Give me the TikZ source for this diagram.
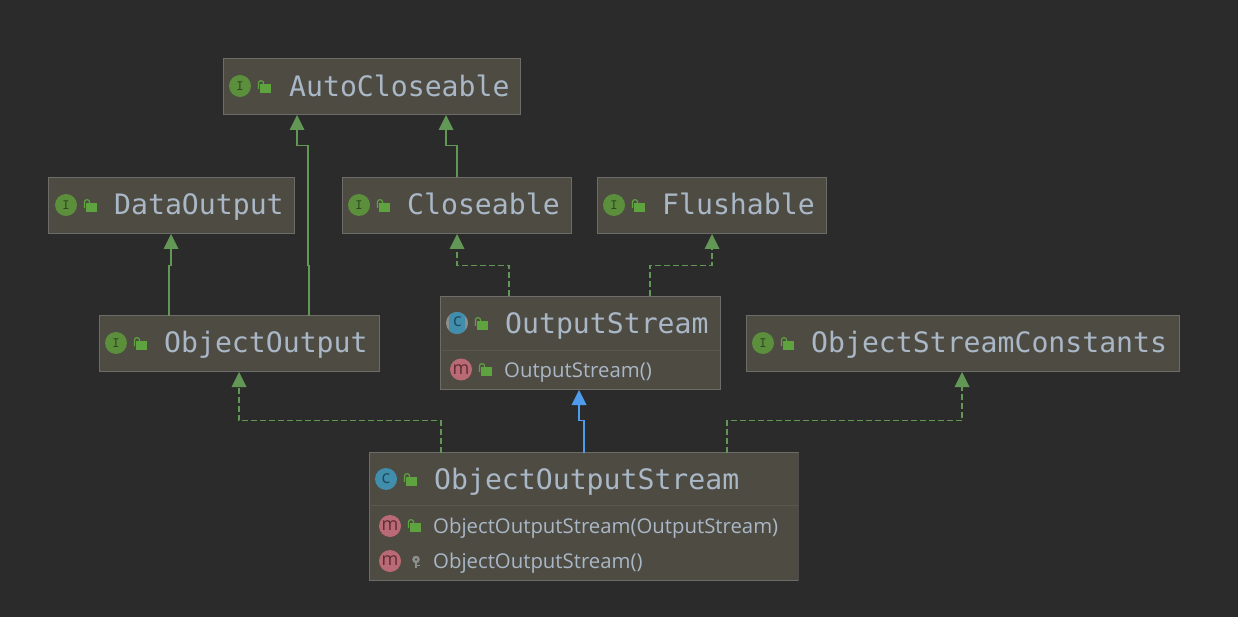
\documentclass[tikz,border=0pt]{standalone}
\usepackage{fontspec}
\setmainfont{Open Sans}
\newfontfamily\titlefont{DejaVu Sans Mono}
\usetikzlibrary{calc,arrows.meta}
\definecolor{bgc}{HTML}{2B2B2B}
\definecolor{boxfill}{HTML}{4E4B43}
\definecolor{boxline}{HTML}{6C6C68}
\definecolor{divline}{HTML}{5A5750}
\definecolor{txt}{HTML}{A9B7C6}
\definecolor{arrgreen}{HTML}{629755}
\definecolor{arrblue}{HTML}{4F9CEE}
\definecolor{igreen}{HTML}{5C8F3C}
\definecolor{igreentx}{HTML}{2F4A20}
\definecolor{lockg}{HTML}{5EA33F}
\definecolor{cblue}{HTML}{408EAC}
\definecolor{cblued}{HTML}{1F4A5C}
\definecolor{mred}{HTML}{B96A74}
\definecolor{mredd}{HTML}{5F2C32}
\definecolor{keyg}{HTML}{8D8F8F}
\tikzset{
  x=1pt,y=-1pt,
  umlbox/.style={draw=boxline,fill=boxfill,line width=1.2pt,rectangle,inner sep=0,outer sep=0},
  titletext/.style={anchor=base west,inner sep=0,text=txt,font=\titlefont\fontsize{28.15}{28}\selectfont},
  methodtext/.style={anchor=base west,inner sep=0,text=txt,font=\fontsize{20.35}{20}\selectfont},
  badge/.style={circle,minimum size=22pt,inner sep=0,outer sep=0},
  ibadge/.style={badge,fill=igreen,text=igreentx,font=\titlefont\fontsize{12}{12}\selectfont},
  cbadge/.style={badge,fill=cblue,text=cblued,font=\fontsize{18}{18}\selectfont},
  mbadge/.style={badge,fill=mred,text=mredd,font=\fontsize{18}{18}\selectfont},
  rel/.style={line width=1.4pt},
  realize/.style={rel,draw=arrgreen,dash pattern=on 6pt off 3pt},
  extendg/.style={rel,draw=arrgreen},
  extendb/.style={rel,draw=arrblue},
}
\newcommand{\lockicon}[2]{%
  \fill[lockg] (#1-4,#2-2.6) rectangle (#1+6.8,#2+5.8);
  \draw[lockg,line width=1.2pt] (#1-5.6,#2+2) -- (#1-5.6,#2-3.8) arc[start angle=180,end angle=0,x radius=2.6,y radius=-2.6] -- (#1-0.4,#2-2.6);
}
\newcommand{\umlbox}[5]{%
  \node[umlbox,minimum width=#4-#2,minimum height=#5-#3] (#1) at ({(#2+#4)/2+0.5},{(#3+#5)/2+0.5}) {};
}
\newcommand{\headarrow}[3]{%
  \fill[#3] (#1,#2) -- (#1-7.5,#2+15) -- (#1+7.5,#2+15) -- cycle;
}
\begin{document}
\begin{tikzpicture}
\useasboundingbox (0,0) rectangle (1238,617);
\fill[bgc] (0,0) rectangle (1238,617);

% boxes
\umlbox{auto}{223}{58}{520}{114}
\umlbox{data}{48}{177}{294}{233}
\umlbox{close}{342}{177}{571}{233}
\umlbox{flush}{597}{177}{826}{233}
\umlbox{oout}{99}{315}{379}{371}
\umlbox{ostream}{440}{296}{720}{389}
\umlbox{osc}{746}{315}{1179}{371}
\umlbox{oos}{369}{452}{798}{580}
\draw[divline,line width=1pt] ($(ostream.north west)+(1,54)$) -- ($(ostream.north east)+(-1,54)$);
\draw[divline,line width=1pt] ($(oos.north west)+(1,53)$) -- ($(oos.north east)+(-1,53)$);
\draw[black!70,line width=1.2pt] (oos.north east) -- (oos.south east);

% connectors
\draw[extendg] ($(oout.north west)+(209.5,0)$) -- ++(0,-50) -- ++(-1,0) |- ($(auto.south west)+(73.5,31)$) -- ($(auto.south west)+(73.5,15)$);
\draw[extendg] ($(oout.north west)+(69.5,0)$) |- ($(data.south west)+(122.5,32)$) -- ($(data.south west)+(122.5,15)$);
\draw[extendg] ($(close.north west)+(114.5,0)$) |- ($(auto.south west)+(222.5,31)$) -- ($(auto.south west)+(222.5,15)$);
\draw[realize] ($(ostream.north west)+(68.5,0)$) |- ($(close.south west)+(114.5,32)$) -- ($(close.south west)+(114.5,15)$);
\draw[realize] ($(ostream.north west)+(209.5,0)$) |- ($(flush.south west)+(114.5,32)$) -- ($(flush.south west)+(114.5,15)$);
\draw[extendb] ($(oos.north west)+(214.5,0)$) |- ($(ostream.south west)+(138.5,31)$) -- ($(ostream.south west)+(138.5,15)$);
\draw[realize] ($(oos.north west)+(71.5,0)$) |- ($(oout.south west)+(139.5,49)$) -- ($(oout.south west)+(139.5,15)$);
\draw[realize] ($(oos.north west)+(357.5,0)$) |- ($(osc.south west)+(215.5,49)$) -- ($(osc.south west)+(215.5,15)$);

% arrow heads
\headarrow{297}{115}{arrgreen}
\headarrow{446}{115}{arrgreen}
\headarrow{171}{234}{arrgreen}
\headarrow{457}{234}{arrgreen}
\headarrow{712}{234}{arrgreen}
\headarrow{239}{372}{arrgreen}
\headarrow{962}{372}{arrgreen}
\headarrow{579}{390}{arrblue}

% AutoCloseable
\node[ibadge] (iauto) at (240,86) {I};
\lockicon{264}{87}
\node[titletext] (tauto) at (289,96.5) {AutoCloseable};
% DataOutput
\node[ibadge] (idata) at (66,205) {I};
\lockicon{90}{206}
\node[titletext] (tdata) at (114,215) {DataOutput};
% Closeable
\node[ibadge] (iclose) at (359,205) {I};
\lockicon{383}{206}
\node[titletext] (tclose) at (407,215) {Closeable};
% Flushable
\node[ibadge] (iflush) at (614,205) {I};
\lockicon{638}{206}
\node[titletext] (tflush) at (662,215) {Flushable};
% ObjectOutput
\node[ibadge] (ioout) at (116,343) {I};
\lockicon{140}{344}
\node[titletext] (toout) at (164,352.5) {ObjectOutput};
% ObjectStreamConstants
\node[ibadge] (iosc) at (763,343) {I};
\lockicon{787}{344}
\node[titletext] (tosc) at (811,352.5) {ObjectStreamConstants};
% OutputStream
\fill[keyg] (457,323) circle (11pt);
\begin{scope}
  \clip (449,310) rectangle (465,336);
  \fill[cblue] (457,323) circle (11pt);
\end{scope}
\node[inner sep=0,outer sep=0,text=cblued,font=\fontsize{18}{18}\selectfont] (costream) at (457.5,322) {c};
\lockicon{481}{324}
\node[titletext] (tostream) at (505,333) {OutputStream};
\node[mbadge] (mostream) at (461,369.5) {m};
\lockicon{485}{370}
\node[methodtext] (lostream) at (504,377) {OutputStream()};
% ObjectOutputStream
\node[cbadge] (coos) at (386,479) {c};
\lockicon{410}{480}
\node[titletext] (toos) at (434,489) {ObjectOutputStream};
\node[mbadge] (moos) at (390,526) {m};
\lockicon{414}{526}
\node[methodtext] (loos) at (433,533) {ObjectOutputStream(OutputStream)};
\node[mbadge] (moosb) at (390,561) {m};
\fill[keyg,even odd rule] (416,559.5) circle (3.8pt) (416,559.5) circle (1.5pt);
\draw[keyg,line width=1.6pt] (416,562) -- (416,568) (416,565.5) -- (419.5,565.5);
\node[methodtext] (loosb) at (433,568) {ObjectOutputStream()};
\end{tikzpicture}
\end{document}
